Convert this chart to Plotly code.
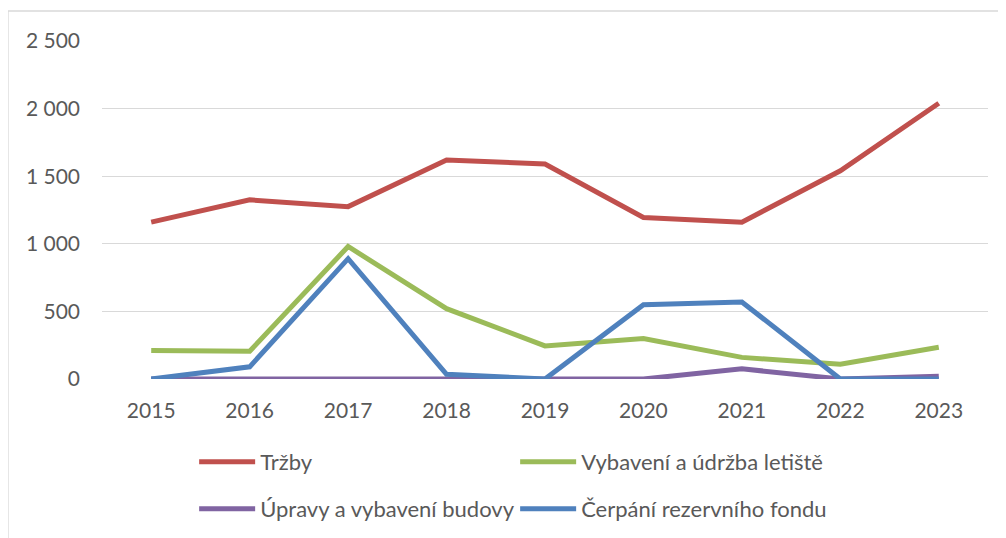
import plotly.graph_objects as go

years = ["2015", "2016", "2017", "2018", "2019", "2020", "2021", "2022", "2023"]
trzby = [1160, 1325, 1275, 1620, 1590, 1195, 1160, 1540, 2040]
vybaveni_letiste = [210, 205, 980, 520, 245, 300, 160, 110, 235]
upravy_budovy = [0, 0, 0, 0, 0, 0, 75, 0, 20]
cerpani_fondu = [0, 90, 890, 35, 0, 550, 570, 0, 0]

series = [
    ("Tržby", trzby, "#C0504D", "legend"),
    ("Vybavení a údržba letiště", vybaveni_letiste, "#9BBB59", "legend"),
    ("Úpravy a vybavení budovy", upravy_budovy, "#8064A2", "legend2"),
    ("Čerpání rezervního fondu", cerpani_fondu, "#4F81BD", "legend2"),
]

fig = go.Figure()
for name, vals, col, leg in series:
    fig.add_trace(go.Scatter(x=years, y=vals, name=name, mode="lines",
                             line=dict(color=col, width=5),
                             legend=leg, hoverinfo="skip"))

font_family = "Lato, 'Open Sans', sans-serif"
leg_common = dict(orientation="h", x=0.104, xanchor="left", yanchor="middle",
                  entrywidth=250, entrywidthmode="pixels",
                  font=dict(family=font_family, size=22, color="#595959"),
                  traceorder="normal", itemwidth=56, bgcolor="rgba(0,0,0,0)")
fig.update_layout(
    width=1006, height=538,
    margin=dict(l=94, r=26, t=33, b=167),
    paper_bgcolor="white", plot_bgcolor="white",
    separators=". ",
    font=dict(family=font_family, size=21, color="#595959"),
    showlegend=True,
    legend=dict(y=-0.2456, **leg_common),
    legend2=dict(y=-0.3846, **leg_common),
    xaxis=dict(type="category", range=[-0.5, 8.5], showgrid=False,
               showline=False, ticks="", zeroline=False,
               ticklabelstandoff=17,
               tickfont=dict(size=21, color="#595959")),
    yaxis=dict(range=[0, 2500], dtick=500, tick0=0, tickformat=",d",
               showgrid=True, gridcolor="#D9D9D9", gridwidth=1.3,
               zeroline=False, showline=False, ticks="",
               ticklabelstandoff=21,
               tickfont=dict(size=21, color="#595959")),
    shapes=[dict(type="rect", xref="paper", yref="paper",
                 x0=-0.1061, x1=1.2, y0=-0.6, y1=1.0888,
                 line=dict(color="#D9D9D9", width=1.3), layer="below")],
)

fig.write_html("out.html")
